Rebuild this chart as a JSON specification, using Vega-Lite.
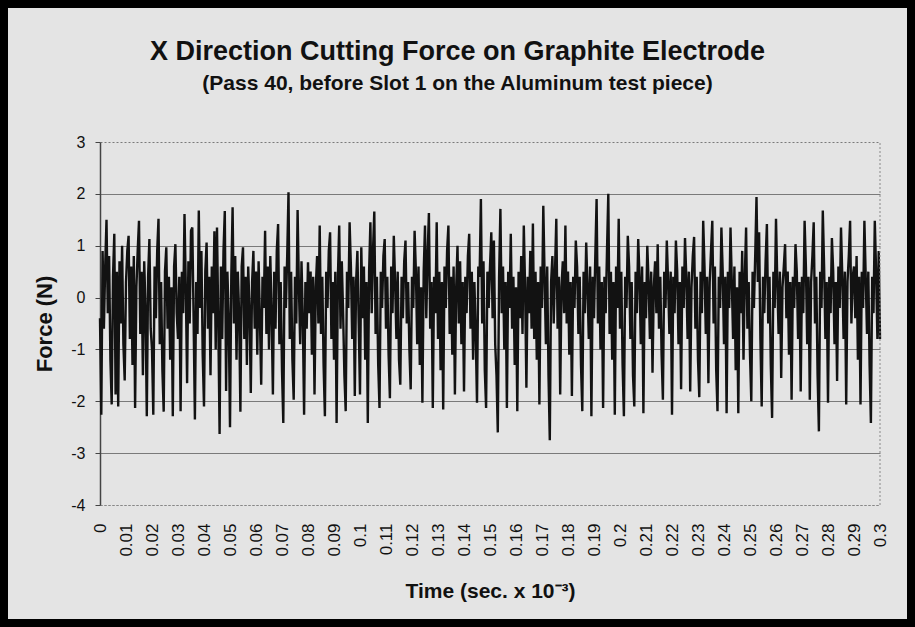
{
 "$schema": "https://vega.github.io/schema/vega-lite/v6.json",
 "width": 915,
 "height": 627,
 "autosize": "none",
 "padding": 0,
 "background": "#e4e4e4",
 "title": {"text": "X Direction Cutting Force on Graphite Electrode", "subtitle": "(Pass 40, before Slot 1 on the Aluminum test piece)", "font": "Liberation Sans", "fontSize": 27, "fontWeight": "bold", "subtitleFont": "Liberation Sans", "subtitleFontSize": 21, "subtitleFontWeight": "bold", "color": "#111", "subtitleColor": "#111", "anchor": "middle", "frame": "group", "offset": -95, "subtitlePadding": 7},
 "config": {"view": {"stroke": "#000", "strokeWidth": 16, "fill": "#e4e4e4"}},
 "data": {"values": [
{"t":0,"f":-0.4},{"t":0.0005,"f":-2.26},{"t":0.001,"f":0.9},{"t":0.0015,"f":-0.6},{"t":0.002,"f":0.6},{"t":0.0025,"f":1.5},{"t":0.003,"f":-0.3},{"t":0.0035,"f":0.8},{"t":0.004,"f":-1.2},{"t":0.0045,"f":-2.06},{"t":0.005,"f":0.4},{"t":0.0055,"f":1.23},{"t":0.006,"f":-1.87},{"t":0.0065,"f":0.5},{"t":0.007,"f":-2.1},{"t":0.0075,"f":0.7},{"t":0.008,"f":-0.5},{"t":0.0085,"f":1.0},{"t":0.009,"f":-0.9},{"t":0.0095,"f":-1.6},
{"t":0.01,"f":0.3},{"t":0.0105,"f":0.9},{"t":0.011,"f":1.19},{"t":0.0115,"f":-0.8},{"t":0.012,"f":0.6},{"t":0.0125,"f":-1.3},{"t":0.013,"f":0.8},{"t":0.0135,"f":-2.13},{"t":0.014,"f":0.2},{"t":0.0145,"f":0.9},{"t":0.015,"f":1.48},{"t":0.0155,"f":-0.7},{"t":0.016,"f":0.5},{"t":0.0165,"f":-1.5},{"t":0.017,"f":0.7},{"t":0.0175,"f":-0.2},{"t":0.018,"f":-2.29},{"t":0.0185,"f":0.4},{"t":0.019,"f":1.13},{"t":0.0195,"f":-0.6},
{"t":0.02,"f":-1.0},{"t":0.0205,"f":-2.26},{"t":0.021,"f":0.6},{"t":0.0215,"f":-0.4},{"t":0.022,"f":0.9},{"t":0.0225,"f":1.52},{"t":0.023,"f":-0.9},{"t":0.0235,"f":0.3},{"t":0.024,"f":-1.4},{"t":0.0245,"f":-2.2},{"t":0.025,"f":0.5},{"t":0.0255,"f":0.97},{"t":0.026,"f":-0.6},{"t":0.0265,"f":0.4},{"t":0.027,"f":-1.2},{"t":0.0275,"f":0.2},{"t":0.028,"f":-2.29},{"t":0.0285,"f":0.6},{"t":0.029,"f":1.03},{"t":0.0295,"f":-0.3},
{"t":0.03,"f":-0.8},{"t":0.0305,"f":0.4},{"t":0.031,"f":-2.19},{"t":0.0315,"f":0.5},{"t":0.032,"f":-0.3},{"t":0.0325,"f":1.61},{"t":0.033,"f":0.2},{"t":0.0335,"f":-1.65},{"t":0.034,"f":0.7},{"t":0.0345,"f":-0.5},{"t":0.035,"f":1.29},{"t":0.0355,"f":1.35},{"t":0.036,"f":-0.4},{"t":0.0365,"f":-2.35},{"t":0.037,"f":0.3},{"t":0.0375,"f":-0.7},{"t":0.038,"f":1.68},{"t":0.0385,"f":-0.2},{"t":0.039,"f":0.9},{"t":0.0395,"f":-1.1},
{"t":0.04,"f":-2.1},{"t":0.0405,"f":0.5},{"t":0.041,"f":1.06},{"t":0.0415,"f":-0.6},{"t":0.042,"f":0.4},{"t":0.0425,"f":-1.5},{"t":0.043,"f":0.6},{"t":0.0435,"f":-0.3},{"t":0.044,"f":1.28},{"t":0.0445,"f":-1.0},{"t":0.045,"f":1.35},{"t":0.0455,"f":-0.5},{"t":0.046,"f":-2.63},{"t":0.0465,"f":0.6},{"t":0.047,"f":-0.8},{"t":0.0475,"f":0.9},{"t":0.048,"f":1.67},{"t":0.0485,"f":-1.8},{"t":0.049,"f":0.5},{"t":0.0495,"f":-0.4},
{"t":0.05,"f":-2.5},{"t":0.0505,"f":0.4},{"t":0.051,"f":1.74},{"t":0.0515,"f":-0.5},{"t":0.052,"f":0.8},{"t":0.0525,"f":-1.2},{"t":0.053,"f":0.5},{"t":0.0535,"f":-0.3},{"t":0.054,"f":-2.2},{"t":0.0545,"f":0.6},{"t":0.055,"f":0.97},{"t":0.0555,"f":-0.8},{"t":0.056,"f":0.4},{"t":0.0565,"f":-1.3},{"t":0.057,"f":0.6},{"t":0.0575,"f":-0.2},{"t":0.058,"f":-1.84},{"t":0.0585,"f":0.3},{"t":0.059,"f":0.9},{"t":0.0595,"f":-0.6},
{"t":0.06,"f":0.5},{"t":0.0605,"f":-1.1},{"t":0.061,"f":0.7},{"t":0.0615,"f":-0.4},{"t":0.062,"f":-1.68},{"t":0.0625,"f":0.4},{"t":0.063,"f":-0.2},{"t":0.0635,"f":1.29},{"t":0.064,"f":-0.7},{"t":0.0645,"f":0.6},{"t":0.065,"f":-1.0},{"t":0.0655,"f":0.8},{"t":0.066,"f":-0.3},{"t":0.0665,"f":-1.87},{"t":0.067,"f":0.5},{"t":0.0675,"f":-0.6},{"t":0.068,"f":0.9},{"t":0.0685,"f":1.42},{"t":0.069,"f":-0.9},{"t":0.0695,"f":0.3},
{"t":0.07,"f":-1.4},{"t":0.0705,"f":-2.42},{"t":0.071,"f":0.6},{"t":0.0715,"f":-0.2},{"t":0.072,"f":0.8},{"t":0.0725,"f":2.03},{"t":0.073,"f":-0.8},{"t":0.0735,"f":0.5},{"t":0.074,"f":-1.2},{"t":0.0745,"f":-1.97},{"t":0.075,"f":0.4},{"t":0.0755,"f":-0.5},{"t":0.076,"f":1.69},{"t":0.0765,"f":0.2},{"t":0.077,"f":-0.9},{"t":0.0775,"f":0.7},{"t":0.078,"f":-0.4},{"t":0.0785,"f":-2.26},{"t":0.079,"f":0.3},{"t":0.0795,"f":-0.6},
{"t":0.08,"f":0.68},{"t":0.0805,"f":-0.3},{"t":0.081,"f":0.5},{"t":0.0815,"f":-1.1},{"t":0.082,"f":0.4},{"t":0.0825,"f":-1.87},{"t":0.083,"f":0.2},{"t":0.0835,"f":0.8},{"t":0.084,"f":-0.5},{"t":0.0845,"f":1.39},{"t":0.085,"f":-0.7},{"t":0.0855,"f":0.4},{"t":0.086,"f":-1.3},{"t":0.0865,"f":-2.29},{"t":0.087,"f":0.5},{"t":0.0875,"f":-0.2},{"t":0.088,"f":0.9},{"t":0.0885,"f":1.26},{"t":0.089,"f":-0.8},{"t":0.0895,"f":0.3},
{"t":0.09,"f":-1.2},{"t":0.0905,"f":0.5},{"t":0.091,"f":-2.42},{"t":0.0915,"f":0.4},{"t":0.092,"f":1.39},{"t":0.0925,"f":-0.6},{"t":0.093,"f":0.7},{"t":0.0935,"f":-0.3},{"t":0.094,"f":-1.5},{"t":0.0945,"f":-2.19},{"t":0.095,"f":0.5},{"t":0.0955,"f":-0.2},{"t":0.096,"f":1.45},{"t":0.0965,"f":0.6},{"t":0.097,"f":-0.8},{"t":0.0975,"f":0.4},{"t":0.098,"f":-1.9},{"t":0.0985,"f":0.3},{"t":0.099,"f":0.9},{"t":0.0995,"f":-0.5},
{"t":0.1,"f":-1.87},{"t":0.1005,"f":0.97},{"t":0.101,"f":-0.4},{"t":0.1015,"f":0.6},{"t":0.102,"f":-1.2},{"t":0.1025,"f":0.3},{"t":0.103,"f":-2.42},{"t":0.1035,"f":0.5},{"t":0.104,"f":1.45},{"t":0.1045,"f":-0.3},{"t":0.105,"f":0.9},{"t":0.1055,"f":1.66},{"t":0.106,"f":-0.7},{"t":0.1065,"f":0.4},{"t":0.107,"f":-1.3},{"t":0.1075,"f":-2.13},{"t":0.108,"f":0.5},{"t":0.1085,"f":-0.2},{"t":0.109,"f":0.8},{"t":0.1095,"f":1.13},
{"t":0.11,"f":-0.6},{"t":0.1105,"f":0.4},{"t":0.111,"f":-1.1},{"t":0.1115,"f":-1.94},{"t":0.112,"f":0.6},{"t":0.1125,"f":-0.3},{"t":0.113,"f":1.19},{"t":0.1135,"f":0.3},{"t":0.114,"f":-0.8},{"t":0.1145,"f":0.5},{"t":0.115,"f":-1.2},{"t":0.1155,"f":-1.68},{"t":0.116,"f":0.4},{"t":0.1165,"f":-0.4},{"t":0.117,"f":0.7},{"t":0.1175,"f":1.1},{"t":0.118,"f":-0.5},{"t":0.1185,"f":0.3},{"t":0.119,"f":-1.0},{"t":0.1195,"f":-1.77},
{"t":0.12,"f":0.4},{"t":0.1205,"f":-0.2},{"t":0.121,"f":1.29},{"t":0.1215,"f":0.5},{"t":0.122,"f":-0.9},{"t":0.1225,"f":0.6},{"t":0.123,"f":-1.3},{"t":0.1235,"f":0.2},{"t":0.124,"f":-2.03},{"t":0.1245,"f":0.5},{"t":0.125,"f":1.39},{"t":0.1255,"f":-0.4},{"t":0.126,"f":0.8},{"t":0.1265,"f":1.63},{"t":0.127,"f":-0.6},{"t":0.1275,"f":0.3},{"t":0.128,"f":-2.13},{"t":0.1285,"f":0.4},{"t":0.129,"f":-0.3},{"t":0.1295,"f":1.45},
{"t":0.13,"f":-0.8},{"t":0.1305,"f":0.5},{"t":0.131,"f":-1.4},{"t":0.1315,"f":0.3},{"t":0.132,"f":-2.16},{"t":0.1325,"f":0.6},{"t":0.133,"f":-0.2},{"t":0.1335,"f":0.9},{"t":0.134,"f":1.39},{"t":0.1345,"f":-0.7},{"t":0.135,"f":0.4},{"t":0.1355,"f":-1.1},{"t":0.136,"f":0.6},{"t":0.1365,"f":-1.87},{"t":0.137,"f":0.2},{"t":0.1375,"f":1.0},{"t":0.138,"f":-0.5},{"t":0.1385,"f":0.7},{"t":0.139,"f":-0.9},{"t":0.1395,"f":0.3},
{"t":0.14,"f":-1.81},{"t":0.1405,"f":0.4},{"t":0.141,"f":-0.3},{"t":0.1415,"f":0.8},{"t":0.142,"f":1.23},{"t":0.1425,"f":-0.6},{"t":0.143,"f":0.5},{"t":0.1435,"f":-1.2},{"t":0.144,"f":0.3},{"t":0.1445,"f":-0.7},{"t":0.145,"f":-2.03},{"t":0.1455,"f":0.6},{"t":0.146,"f":0.4},{"t":0.1465,"f":1.9},{"t":0.147,"f":-0.5},{"t":0.1475,"f":0.7},{"t":0.148,"f":-1.4},{"t":0.1485,"f":-2.13},{"t":0.149,"f":0.5},{"t":0.1495,"f":-0.2},
{"t":0.15,"f":0.6},{"t":0.1505,"f":1.26},{"t":0.151,"f":-0.4},{"t":0.1515,"f":1.1},{"t":0.152,"f":-0.9},{"t":0.1525,"f":-1.5},{"t":0.153,"f":-2.6},{"t":0.1535,"f":0.4},{"t":0.154,"f":1.71},{"t":0.1545,"f":-0.3},{"t":0.155,"f":0.6},{"t":0.1555,"f":-1.0},{"t":0.156,"f":0.3},{"t":0.1565,"f":-2.13},{"t":0.157,"f":0.5},{"t":0.1575,"f":-0.2},{"t":0.158,"f":1.23},{"t":0.1585,"f":-0.6},{"t":0.159,"f":0.4},{"t":0.1595,"f":-1.3},
{"t":0.16,"f":0.2},{"t":0.1605,"f":-2.19},{"t":0.161,"f":0.5},{"t":0.1615,"f":-0.4},{"t":0.162,"f":0.8},{"t":0.1625,"f":-0.7},{"t":0.163,"f":1.39},{"t":0.1635,"f":0.2},{"t":0.164,"f":-1.74},{"t":0.1645,"f":0.4},{"t":0.165,"f":-0.3},{"t":0.1655,"f":0.9},{"t":0.166,"f":-0.6},{"t":0.1665,"f":1.43},{"t":0.167,"f":-0.8},{"t":0.1675,"f":0.5},{"t":0.168,"f":-1.2},{"t":0.1685,"f":0.3},{"t":0.169,"f":-2.06},{"t":0.1695,"f":0.6},
{"t":0.17,"f":-0.2},{"t":0.1705,"f":1.77},{"t":0.171,"f":0.4},{"t":0.1715,"f":-0.9},{"t":0.172,"f":0.6},{"t":0.1725,"f":-1.5},{"t":0.173,"f":-2.75},{"t":0.1735,"f":0.3},{"t":0.174,"f":0.8},{"t":0.1745,"f":-0.5},{"t":0.175,"f":0.5},{"t":0.1755,"f":1.52},{"t":0.176,"f":-0.6},{"t":0.1765,"f":0.4},{"t":0.177,"f":-1.87},{"t":0.1775,"f":0.2},{"t":0.178,"f":0.7},{"t":0.1785,"f":-0.3},{"t":0.179,"f":1.39},{"t":0.1795,"f":-0.5},
{"t":0.18,"f":0.5},{"t":0.1805,"f":-1.1},{"t":0.181,"f":0.3},{"t":0.1815,"f":-1.9},{"t":0.182,"f":0.4},{"t":0.1825,"f":-0.2},{"t":0.183,"f":1.1},{"t":0.1835,"f":0.6},{"t":0.184,"f":-0.7},{"t":0.1845,"f":0.4},{"t":0.185,"f":-1.3},{"t":0.1855,"f":-2.19},{"t":0.186,"f":0.5},{"t":0.1865,"f":-0.3},{"t":0.187,"f":1.06},{"t":0.1875,"f":0.2},{"t":0.188,"f":-0.8},{"t":0.1885,"f":0.6},{"t":0.189,"f":-2.29},{"t":0.1895,"f":0.4},
{"t":0.19,"f":-0.4},{"t":0.1905,"f":0.8},{"t":0.191,"f":1.9},{"t":0.1915,"f":-0.5},{"t":0.192,"f":0.6},{"t":0.1925,"f":-1.0},{"t":0.193,"f":0.3},{"t":0.1935,"f":-2.13},{"t":0.194,"f":0.4},{"t":0.1945,"f":-0.3},{"t":0.195,"f":0.9},{"t":0.1955,"f":2.0},{"t":0.196,"f":-0.7},{"t":0.1965,"f":0.5},{"t":0.197,"f":-1.2},{"t":0.1975,"f":0.3},{"t":0.198,"f":-2.26},{"t":0.1985,"f":0.6},{"t":0.199,"f":-0.2},{"t":0.1995,"f":1.52},
{"t":0.2,"f":-0.6},{"t":0.2005,"f":0.5},{"t":0.201,"f":-1.3},{"t":0.2015,"f":-2.29},{"t":0.202,"f":0.4},{"t":0.2025,"f":-0.2},{"t":0.203,"f":1.19},{"t":0.2035,"f":0.6},{"t":0.204,"f":-0.8},{"t":0.2045,"f":0.3},{"t":0.205,"f":-1.5},{"t":0.2055,"f":-2.1},{"t":0.206,"f":0.5},{"t":0.2065,"f":-0.3},{"t":0.207,"f":1.13},{"t":0.2075,"f":0.4},{"t":0.208,"f":-0.9},{"t":0.2085,"f":0.6},{"t":0.209,"f":-2.23},{"t":0.2095,"f":0.3},
{"t":0.21,"f":-0.4},{"t":0.2105,"f":1.0},{"t":0.211,"f":0.3},{"t":0.2115,"f":-0.8},{"t":0.212,"f":0.5},{"t":0.2125,"f":-1.45},{"t":0.213,"f":0.2},{"t":0.2135,"f":0.7},{"t":0.214,"f":-0.3},{"t":0.2145,"f":1.03},{"t":0.215,"f":-0.6},{"t":0.2155,"f":0.4},{"t":0.216,"f":-1.1},{"t":0.2165,"f":-1.97},{"t":0.217,"f":0.5},{"t":0.2175,"f":-0.2},{"t":0.218,"f":1.1},{"t":0.2185,"f":0.3},{"t":0.219,"f":-0.7},{"t":0.2195,"f":0.5},
{"t":0.22,"f":-2.26},{"t":0.2205,"f":0.4},{"t":0.221,"f":-0.3},{"t":0.2215,"f":1.1},{"t":0.222,"f":0.5},{"t":0.2225,"f":-0.9},{"t":0.223,"f":0.3},{"t":0.2235,"f":-1.77},{"t":0.224,"f":0.6},{"t":0.2245,"f":-0.2},{"t":0.225,"f":1.15},{"t":0.2255,"f":0.4},{"t":0.226,"f":-0.8},{"t":0.2265,"f":0.5},{"t":0.227,"f":-1.81},{"t":0.2275,"f":0.2},{"t":0.228,"f":0.8},{"t":0.2285,"f":1.17},{"t":0.229,"f":-0.6},{"t":0.2295,"f":0.4},
{"t":0.23,"f":-1.2},{"t":0.2305,"f":-1.92},{"t":0.231,"f":0.5},{"t":0.2315,"f":-0.3},{"t":0.232,"f":1.48},{"t":0.2325,"f":0.6},{"t":0.233,"f":-0.7},{"t":0.2335,"f":0.4},{"t":0.234,"f":-1.65},{"t":0.2345,"f":0.3},{"t":0.235,"f":0.9},{"t":0.2355,"f":1.48},{"t":0.236,"f":-0.5},{"t":0.2365,"f":0.6},{"t":0.237,"f":-1.4},{"t":0.2375,"f":-2.19},{"t":0.238,"f":0.4},{"t":0.2385,"f":-0.2},{"t":0.239,"f":1.35},{"t":0.2395,"f":0.5},
{"t":0.24,"f":-0.9},{"t":0.2405,"f":0.4},{"t":0.241,"f":-2.23},{"t":0.2415,"f":0.5},{"t":0.242,"f":-0.2},{"t":0.2425,"f":1.35},{"t":0.243,"f":0.3},{"t":0.2435,"f":-0.8},{"t":0.244,"f":0.6},{"t":0.2445,"f":-1.4},{"t":0.245,"f":0.2},{"t":0.2455,"f":-2.23},{"t":0.246,"f":0.5},{"t":0.2465,"f":-0.3},{"t":0.247,"f":0.9},{"t":0.2475,"f":-1.2},{"t":0.248,"f":0.4},{"t":0.2485,"f":1.35},{"t":0.249,"f":-0.6},{"t":0.2495,"f":0.3},
{"t":0.25,"f":-1.1},{"t":0.2505,"f":-2.0},{"t":0.251,"f":0.5},{"t":0.2515,"f":-0.2},{"t":0.252,"f":0.8},{"t":0.2525,"f":1.94},{"t":0.253,"f":0.3},{"t":0.2535,"f":1.26},{"t":0.254,"f":-0.8},{"t":0.2545,"f":-2.1},{"t":0.255,"f":0.4},{"t":0.2555,"f":-0.3},{"t":0.256,"f":0.7},{"t":0.2565,"f":1.42},{"t":0.257,"f":-0.5},{"t":0.2575,"f":0.4},{"t":0.258,"f":-1.3},{"t":0.2585,"f":-2.32},{"t":0.259,"f":0.5},{"t":0.2595,"f":-0.2},
{"t":0.26,"f":1.52},{"t":0.2605,"f":0.3},{"t":0.261,"f":-0.7},{"t":0.2615,"f":0.5},{"t":0.262,"f":-1.55},{"t":0.2625,"f":0.2},{"t":0.263,"f":0.6},{"t":0.2635,"f":1.03},{"t":0.264,"f":-0.4},{"t":0.2645,"f":0.5},{"t":0.265,"f":-1.1},{"t":0.2655,"f":0.3},{"t":0.266,"f":-1.97},{"t":0.2665,"f":0.4},{"t":0.267,"f":-0.2},{"t":0.2675,"f":1.03},{"t":0.268,"f":0.5},{"t":0.2685,"f":-0.8},{"t":0.269,"f":0.3},{"t":0.2695,"f":-1.81},
{"t":0.27,"f":0.4},{"t":0.2705,"f":-0.3},{"t":0.271,"f":1.48},{"t":0.2715,"f":0.6},{"t":0.272,"f":-0.9},{"t":0.2725,"f":0.4},{"t":0.273,"f":-1.97},{"t":0.2735,"f":0.3},{"t":0.274,"f":0.8},{"t":0.2745,"f":1.45},{"t":0.275,"f":-0.5},{"t":0.2755,"f":0.4},{"t":0.276,"f":-1.5},{"t":0.2765,"f":-2.58},{"t":0.277,"f":0.5},{"t":0.2775,"f":-0.2},{"t":0.278,"f":1.68},{"t":0.2785,"f":0.6},{"t":0.279,"f":-0.8},{"t":0.2795,"f":0.3},
{"t":0.28,"f":-2.03},{"t":0.2805,"f":0.4},{"t":0.281,"f":-0.3},{"t":0.2815,"f":1.15},{"t":0.282,"f":0.5},{"t":0.2825,"f":-0.9},{"t":0.283,"f":0.3},{"t":0.2835,"f":-1.61},{"t":0.284,"f":0.6},{"t":0.2845,"f":-0.2},{"t":0.285,"f":1.35},{"t":0.2855,"f":0.4},{"t":0.286,"f":-0.8},{"t":0.2865,"f":0.5},{"t":0.287,"f":-2.06},{"t":0.2875,"f":0.3},{"t":0.288,"f":0.8},{"t":0.2885,"f":1.48},{"t":0.289,"f":-0.5},{"t":0.2895,"f":0.4},
{"t":0.29,"f":0.6},{"t":0.2905,"f":-0.4},{"t":0.291,"f":0.8},{"t":0.2915,"f":-1.2},{"t":0.292,"f":0.4},{"t":0.2925,"f":-2.06},{"t":0.293,"f":0.5},{"t":0.2935,"f":-0.2},{"t":0.294,"f":1.48},{"t":0.2945,"f":0.4},{"t":0.295,"f":-0.7},{"t":0.2955,"f":0.5},{"t":0.296,"f":-1.3},{"t":0.2965,"f":-2.42},{"t":0.297,"f":0.4},{"t":0.2975,"f":-0.3},{"t":0.298,"f":1.48},{"t":0.2985,"f":0.5},{"t":0.299,"f":-0.8},{"t":0.2995,"f":0.9},
{"t":0.3,"f":-0.8}
 ]},
 "layer": [
  {
   "mark": {"type": "line", "color": "#121212", "strokeWidth": 2.4},
   "encoding": {
    "x": {"field": "t", "type": "quantitative",
     "scale": {"domain": [0, 0.3], "range": [100, 880], "nice": false, "zero": false},
     "axis": {"title": "Time (sec. x 10⁻³)", "values": [0,0.01,0.02,0.03,0.04,0.05,0.06,0.07,0.08,0.09,0.1,0.11,0.12,0.13,0.14,0.15,0.16,0.17,0.18,0.19,0.2,0.21,0.22,0.23,0.24,0.25,0.26,0.27,0.28,0.29,0.3],
      "tickCount": 40,
      "format": ".2~f", "labelAngle": 270, "grid": false, "ticks": false, "domainColor": "#888", "domainDash": [2,2], "domainWidth": 1,
      "labelFont": "Liberation Sans", "labelFontSize": 17, "labelColor": "#111", "labelPadding": 18, "labelOverlap": false, "labelBound": false,
      "titleFont": "Liberation Sans", "titleFontSize": 21, "titleFontWeight": "bold", "titleColor": "#111", "titlePadding": 24, "offset": -122}},
    "y": {"field": "f", "type": "quantitative",
     "scale": {"domain": [-4, 3], "range": [505, 142], "nice": false, "zero": false},
     "axis": {"title": "Force (N)", "values": [-4,-3,-2,-1,0,1,2,3], "tickCount": 10, "grid": true, "gridColor": "#7a7a7a", "gridWidth": 1,
      "gridDash": {"condition": {"test": "datum.value == -4 || datum.value == 3", "value": [2,2]}, "value": []},
      "domainColor": "#444", "domainWidth": 1.5, "tickColor": "#444", "tickSize": 5,
      "labelFont": "Liberation Sans", "labelFontSize": 16, "labelColor": "#111", "labelPadding": 10,
      "labelExpr": "datum.value < 0 ? '-' + abs(datum.value) : '' + datum.value",
      "titleFont": "Liberation Sans", "titleFontSize": 22, "titleFontWeight": "bold", "titleColor": "#111", "titlePadding": 14, "offset": -100}}
   }
  },
  {
   "data": {"values": [{}]},
   "mark": {"type": "rule", "color": "#888", "strokeDash": [2,2], "strokeWidth": 1},
   "encoding": {"x": {"datum": 0.3, "type": "quantitative"}, "y": {"datum": -4, "type": "quantitative"}, "y2": {"datum": 3}}
  }
 ]
}
